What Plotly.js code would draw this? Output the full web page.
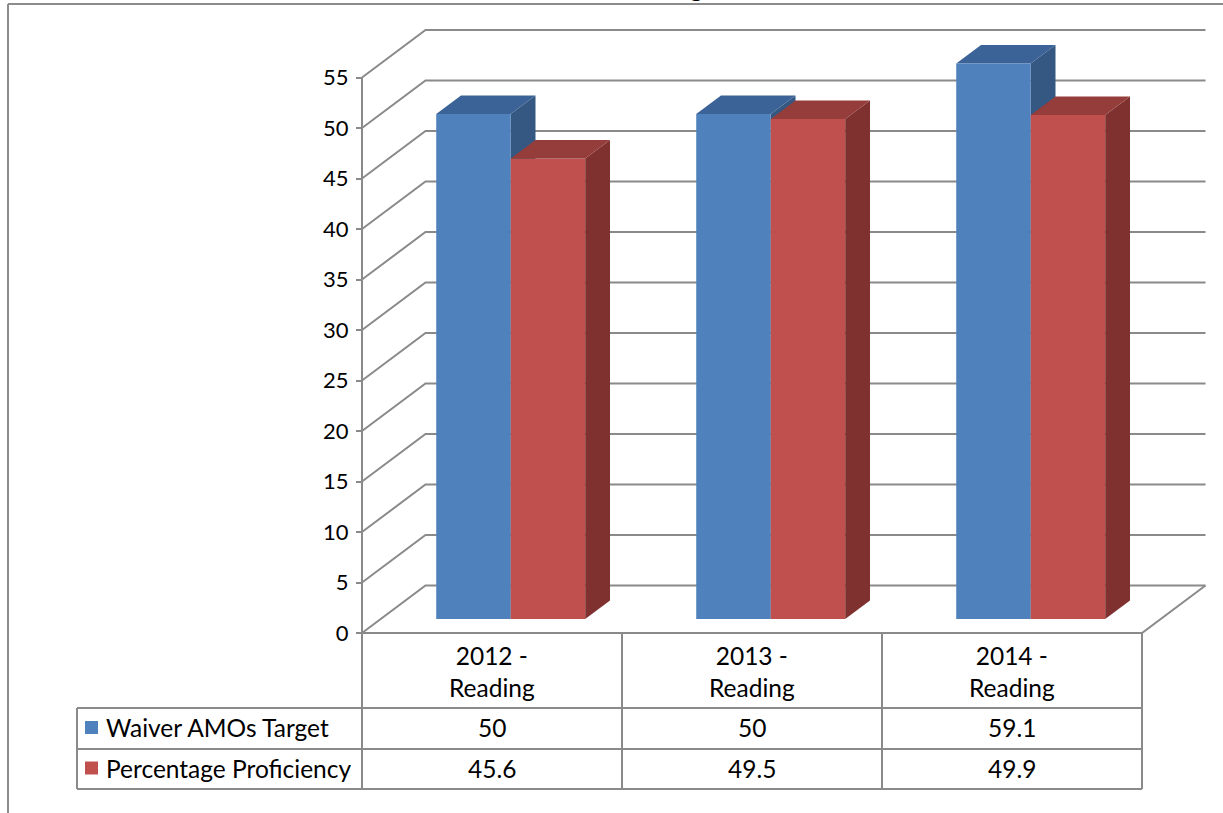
<!DOCTYPE html>
<html>
<head>
<meta charset="utf-8">
<script src="https://cdn.plot.ly/plotly-3.0.1.min.js"></script>
<style>
html,body{margin:0;padding:0;background:#fff;overflow:hidden}
#chart{width:1223px;height:813px}
</style>
</head>
<body>
<div id="chart"></div>
<script>
// ---------------- data ----------------
const chartTitle = 'Reading';
const categories = ['2012 - Reading', '2013 - Reading', '2014 - Reading'];
const seriesNames = ['Waiver AMOs Target', 'Percentage Proficiency'];
const waiverTarget = [50, 50, 59.1];
const proficiency = [45.6, 49.5, 49.9];
const yTickValues = [0, 5, 10, 15, 20, 25, 30, 35, 40, 45, 50, 55];

// ---------------- styles / geometry ----------------
const W = 1223, H = 813;
const FONT = 'Lato, "Open Sans", sans-serif';
const frontColors = ['#4F81BD', '#C0504D'];
const topColors = ['#3B6397', '#943D3B'];
const sideColors = ['#345882', '#7E312F'];
const gridColor = '#8a8a8a';

const X0_PX = 362;      // pixel of the left edge of the front plane
const CAT_PX = 260;     // pixels per category
const Y0_PX = 633;      // pixel of value 0 on the front plane
const UNIT_PX = 10.1;   // pixels per value unit
const WALL_DX = 63.5 / CAT_PX;   // depth offset of the back wall (category units)
const WALL_DY = 47.5 / UNIT_PX;  // depth offset of the back wall (value units)
const BAR_W = 74.5 / CAT_PX;
const DEPTH_FRONT = 0.295, DEPTH_BACK = 0.685;

const PX = x => x / W;
const PY = y => 1 - y / H;
const catPx = c => X0_PX + (c + 0.5) * CAT_PX;

const series = [waiverTarget, proficiency];
const n = categories.length;
const yMax = yTickValues[yTickValues.length - 1];

const xRange = [-0.5 - X0_PX / CAT_PX, -0.5 + (W - X0_PX) / CAT_PX];
const yRange = [-(H - Y0_PX) / UNIT_PX, Y0_PX / UNIT_PX];

const proj = (c, v, d) => [c + d * WALL_DX, v + d * WALL_DY];
const poly = pts => 'M' + pts.map(p => p[0] + ',' + p[1]).join(' L') + ' Z';
const polyline = pts => 'M' + pts.map(p => p[0] + ',' + p[1]).join(' L');

const shapes = [];
const annotations = [];

// walls: gridlines (left wall diagonals + back wall horizontals)
yTickValues.forEach(v => {
  shapes.push({
    type: 'path', xref: 'x', yref: 'y', layer: 'below',
    path: polyline([proj(-0.5, v, 0), proj(-0.5, v, 1), proj(n - 0.5, v, 1)]),
    line: {color: gridColor, width: 2}
  });
});
// floor edges
shapes.push({type: 'path', xref: 'x', yref: 'y', layer: 'below',
  path: polyline([proj(-0.5, 0, 0), proj(n - 0.5, 0, 0), proj(n - 0.5, 0, 1)]),
  line: {color: gridColor, width: 2}});
// vertical axis line
shapes.push({type: 'path', xref: 'x', yref: 'y', layer: 'below',
  path: polyline([proj(-0.5, 0, 0), proj(-0.5, yMax, 0)]),
  line: {color: gridColor, width: 2}});

// 3D faces of the columns (top + side)
const F = DEPTH_FRONT, B = DEPTH_BACK;
series.forEach((vals, s) => {
  vals.forEach((val, i) => {
    const h = Math.min(val, yMax);
    const cl = i - BAR_W + s * BAR_W, cr = cl + BAR_W;
    const layer = s === 0 ? 'below' : 'above';
    shapes.push({type: 'path', xref: 'x', yref: 'y', layer,
      path: poly([proj(cr, 0, F), proj(cr, h, F), proj(cr, h, B), proj(cr, 0, B)]),
      fillcolor: sideColors[s], line: {width: 0}});
    shapes.push({type: 'path', xref: 'x', yref: 'y', layer,
      path: poly([proj(cl, h, F), proj(cr, h, F), proj(cr, h, B), proj(cl, h, B)]),
      fillcolor: topColors[s], line: {width: 0}});
  });
});

// front faces of the columns
const traces = series.map((vals, s) => ({
  type: 'bar',
  name: seriesNames[s],
  x: categories.map((_, i) => i - BAR_W + s * BAR_W + BAR_W / 2 + F * WALL_DX),
  y: vals.map(v => Math.min(v, yMax)),
  base: F * WALL_DY,
  width: BAR_W,
  marker: {color: frontColors[s], line: {width: 0}},
  showlegend: false,
  hoverinfo: 'skip'
}));

// ---------------- data table ----------------
const T_HEAD_TOP = 633, T_HEAD_BOT = 708, T_ROW1_BOT = 749, T_ROW2_BOT = 789, T_LEFT = 77;
const rowBottoms = [T_ROW1_BOT, T_ROW2_BOT];
const rowTops = [T_HEAD_BOT, T_ROW1_BOT];
const tline = (x0, y0, x1, y1) => shapes.push({type: 'line', xref: 'paper', yref: 'paper',
  x0: PX(x0), y0: PY(y0), x1: PX(x1), y1: PY(y1), line: {color: gridColor, width: 2}, layer: 'above'});

for (let i = 0; i <= n; i++) tline(catPx(i - 0.5), T_HEAD_TOP, catPx(i - 0.5), T_ROW2_BOT);
tline(T_LEFT, T_HEAD_BOT, catPx(n - 0.5), T_HEAD_BOT);
tline(T_LEFT, T_ROW1_BOT, catPx(n - 0.5), T_ROW1_BOT);
tline(T_LEFT, T_ROW2_BOT, catPx(n - 0.5), T_ROW2_BOT);
tline(T_LEFT, T_HEAD_BOT, T_LEFT, T_ROW2_BOT);

const tfont = {family: FONT, size: 24.5, color: '#000'};
categories.forEach((c, i) => {
  annotations.push({xref: 'paper', yref: 'paper', x: PX(catPx(i)), y: PY((T_HEAD_TOP + T_HEAD_BOT) / 2 + 1),
    text: c.replace(' - ', ' -<br>'), showarrow: false, xanchor: 'center', yanchor: 'middle', font: tfont});
});
series.forEach((vals, s) => {
  const yc = (rowTops[s] + rowBottoms[s]) / 2 - 1;
  shapes.push({type: 'rect', xref: 'paper', yref: 'paper',
    x0: PX(85), x1: PX(98), y0: PY(yc - 6.5), y1: PY(yc + 6.5),
    fillcolor: frontColors[s], line: {width: 0}, layer: 'above'});
  annotations.push({xref: 'paper', yref: 'paper', x: PX(104), y: PY(yc), text: seriesNames[s],
    showarrow: false, xanchor: 'left', yanchor: 'middle', font: tfont});
  vals.forEach((v, i) => {
    annotations.push({xref: 'paper', yref: 'paper', x: PX(catPx(i)), y: PY(yc), text: String(v),
      showarrow: false, xanchor: 'center', yanchor: 'middle', font: tfont});
  });
});

// chart area border (top and left visible)
shapes.push({type: 'line', xref: 'paper', yref: 'paper', x0: PX(8), y0: PY(4), x1: 1, y1: PY(4),
  line: {color: '#8c8c8c', width: 2}});
shapes.push({type: 'line', xref: 'paper', yref: 'paper', x0: PX(8), y0: PY(4), x1: PX(8), y1: 0,
  line: {color: '#8c8c8c', width: 2}});

// title, mostly outside the top edge in the reference
annotations.push({xref: 'paper', yref: 'paper', x: PX(704), y: PY(3), xanchor: 'right', yanchor: 'bottom',
  text: '<b>' + chartTitle + '</b>', showarrow: false,
  font: {family: '"Liberation Serif", serif', size: 24, color: '#000'}});

const layout = {
  width: W, height: H,
  margin: {l: 0, r: 0, t: 0, b: 0, pad: 0},
  paper_bgcolor: '#fff', plot_bgcolor: '#fff',
  barmode: 'overlay',
  showlegend: false,
  xaxis: {range: xRange, visible: false, fixedrange: true},
  yaxis: {
    range: yRange, anchor: 'free', position: PX(X0_PX),
    tickmode: 'array', tickvals: yTickValues, ticktext: yTickValues.map(String),
    ticks: 'outside', ticklen: 6, tickwidth: 2, tickcolor: gridColor,
    ticklabelstandoff: 3,
    showgrid: false, zeroline: false, showline: false, fixedrange: true,
    tickfont: {family: FONT, size: 22, color: '#000'}
  },
  shapes, annotations
};

Plotly.newPlot('chart', traces, layout, {displayModeBar: false, staticPlot: true});
</script>
</body>
</html>
